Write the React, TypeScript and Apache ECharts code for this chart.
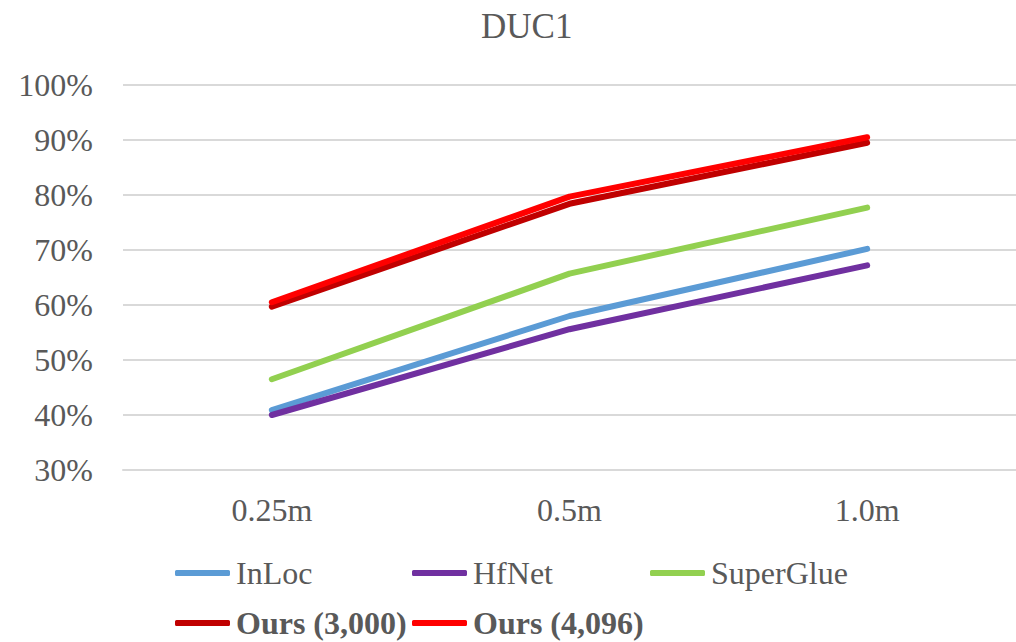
import React, { useEffect, useRef } from "react";
import * as echarts from "echarts";

const categories = ["0.25m", "0.5m", "1.0m"];
const inLoc = [40.9, 58.0, 70.2];
const hfNet = [40.0, 55.6, 67.2];
const superGlue = [46.5, 65.7, 77.7];
const ours3000 = [59.7, 78.4, 89.5];
const ours4096 = [60.5, 79.7, 90.5];

const FONT = "'Liberation Serif', serif";
const TEXT = "#595959";

const seriesDefs = [
  { name: "InLoc", data: inLoc, color: "#5B9BD5", bold: false, left: 175, top: 557 },
  { name: "HfNet", data: hfNet, color: "#7030A0", bold: false, left: 412, top: 557 },
  { name: "SuperGlue", data: superGlue, color: "#92D050", bold: false, left: 650, top: 557 },
  { name: "Ours (3,000)", data: ours3000, color: "#C00000", bold: true, left: 175, top: 607 },
  { name: "Ours (4,096)", data: ours4096, color: "#FF0000", bold: true, left: 412, top: 607 },
];

export default function App() {
  const ref = useRef<HTMLDivElement>(null);

  useEffect(() => {
    if (!ref.current) return;
    const chart = echarts.init(ref.current, null, { renderer: "svg" });
    chart.setOption({
      animation: false,
      backgroundColor: "#ffffff",
      title: {
        text: "DUC1",
        left: 476,
        top: 4,
        textStyle: { fontFamily: FONT, fontSize: 35, fontWeight: "normal", color: TEXT },
      },
      legend: seriesDefs.map((s) => ({
        data: [s.name],
        left: s.left,
        top: s.top,
        itemWidth: 55,
        itemHeight: 6,
        itemGap: 0,
        padding: 0,
        icon: "roundRect",
        textStyle: {
          fontFamily: FONT,
          fontSize: 32,
          color: TEXT,
          fontWeight: s.bold ? "bold" : "normal",
          padding: [0, 0, 0, 1],
        },
      })),
      grid: { left: 123, right: 0, top: 85, bottom: 172, containLabel: false },
      xAxis: {
        type: "category",
        data: categories,
        boundaryGap: true,
        axisLine: { show: true, lineStyle: { color: "#D9D9D9", width: 2 } },
        axisTick: { show: false },
        axisLabel: { fontFamily: FONT, fontSize: 32, color: TEXT, margin: 24 },
      },
      yAxis: {
        type: "value",
        min: 30,
        max: 100,
        interval: 10,
        axisLine: { show: false },
        axisTick: { show: false },
        splitLine: { lineStyle: { color: "#D9D9D9", width: 2 } },
        axisLabel: {
          fontFamily: FONT,
          fontSize: 32,
          color: TEXT,
          margin: 30,
          formatter: "{value}%",
        },
      },
      series: seriesDefs.map((s) => ({
        name: s.name,
        type: "line",
        data: s.data,
        showSymbol: false,
        symbol: "none",
        color: s.color,
        lineStyle: { width: 6, color: s.color, cap: "round", join: "round" },
      })),
    });
    return () => chart.dispose();
  }, []);

  return (
    <div
      ref={ref}
      style={{ position: "absolute", left: 0, top: 0, width: 1016, height: 642 }}
    />
  );
}
